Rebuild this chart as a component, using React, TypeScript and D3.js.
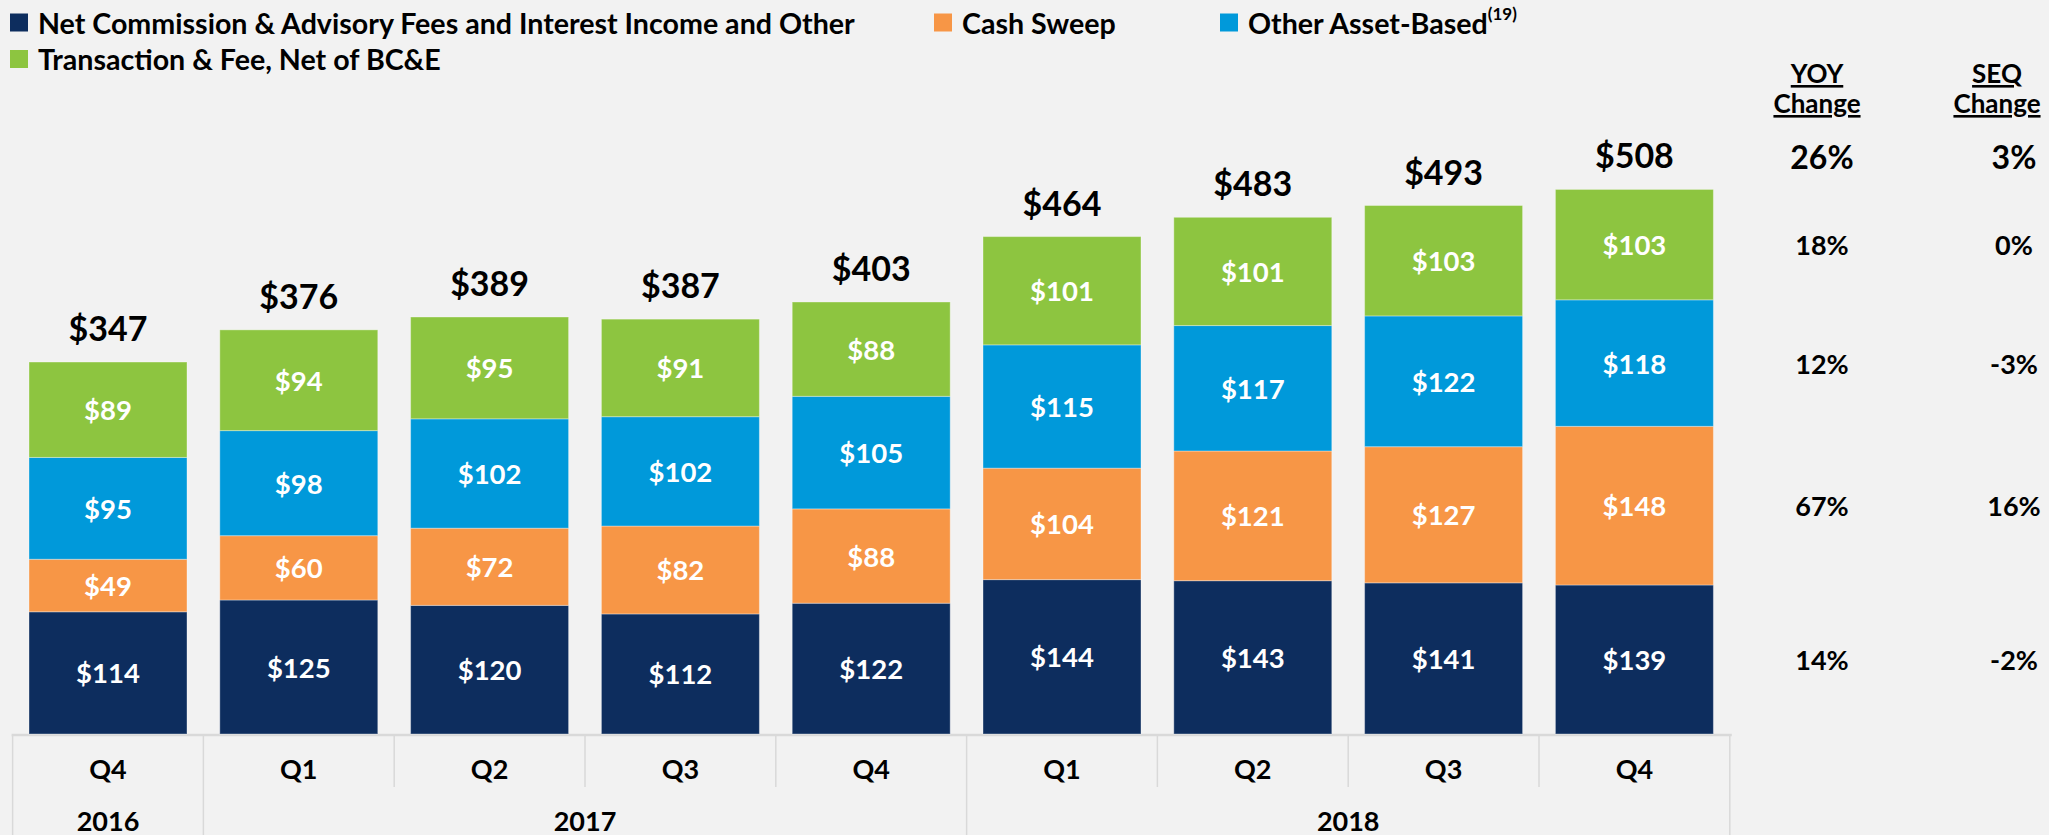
import React from "react";
import * as d3 from "d3";

const quarters = ["Q4", "Q1", "Q2", "Q3", "Q4", "Q1", "Q2", "Q3", "Q4"];
const yearLabels = ["2016", "2017", "2018"];
const yearSpans = [1, 4, 4];

const seriesNames = [
  "Net Commission & Advisory Fees and Interest Income and Other",
  "Cash Sweep",
  "Other Asset-Based",
  "Transaction & Fee, Net of BC&E",
];
const netCommission = [114, 125, 120, 112, 122, 144, 143, 141, 139];
const cashSweep = [49, 60, 72, 82, 88, 104, 121, 127, 148];
const otherAssetBased = [95, 98, 102, 102, 105, 115, 117, 122, 118];
const transactionFee = [89, 94, 95, 91, 88, 101, 101, 103, 103];
const totals = [347, 376, 389, 387, 403, 464, 483, 493, 508];

const yoyChange = ["26%", "18%", "12%", "67%", "14%"];
const seqChange = ["3%", "0%", "-3%", "16%", "-2%"];

const colors = ["#0D2D5E", "#F79646", "#0099DA", "#8DC540"];
const FONT = "Lato, 'Open Sans', sans-serif";

export default function App() {
  const W = 2049;
  const H = 835;
  const baseY = 734;
  const series = [netCommission, cashSweep, otherAssetBased, transactionFee];

  const x = d3
    .scaleBand<number>()
    .domain(d3.range(quarters.length))
    .range([12.6, 1729.8])
    .paddingInner(0.172)
    .paddingOuter(0.086);
  const y = d3.scaleLinear().domain([0, 500]).range([baseY, baseY - 536]);

  const rows = quarters.map((q, i) => {
    const o: any = { i };
    series.forEach((s, k) => (o["s" + k] = s[i]));
    return o;
  });
  const stack = d3.stack<any>().keys(["s0", "s1", "s2", "s3"])(rows);

  const step = x.step();
  const x0 = 12.6;
  const axisY = 735;

  const yearBounds: number[] = [];
  let acc = 0;
  yearSpans.forEach((s) => {
    yearBounds.push(acc);
    acc += s;
  });
  yearBounds.push(acc);

  const last = quarters.length - 1;
  const lastCenters = [3, 2, 1, 0].map((k) => {
    const seg = stack[k][last];
    return (y(seg[0]) + y(seg[1])) / 2;
  });
  const totalY = (i: number) => y(stack[3][i][1]) - 21;

  const rightRowsY = [y(stack[3][last][1]) - 33, ...lastCenters];
  const yoyX = 1822;
  const seqX = 2014;

  const legend = [
    { k: 0, x: 10, y: 22.5 },
    { k: 1, x: 934, y: 22.5 },
    { k: 2, x: 1220, y: 22.5 },
    { k: 3, x: 10, y: 59 },
  ];

  return (
    <svg
      width={W}
      height={H}
      style={{ position: "absolute", left: 0, top: 0, fontFamily: FONT }}
    >
      <rect x={0} y={0} width={W} height={H} fill="#F2F2F2" />

      {legend.map((l) => (
        <g key={l.k}>
          <rect x={l.x} y={l.y - 9} width={18} height={18} fill={colors[l.k]} />
          <text
            x={l.x + 28}
            y={l.y}
            dominantBaseline="central"
            fontSize={28.6}
            fontWeight={700}
            fill="#000"
          >
            {seriesNames[l.k]}
            {l.k === 2 ? (
              <tspan fontSize={17} dy={-10}>
                (19)
              </tspan>
            ) : null}
          </text>
        </g>
      ))}

      <line x1={x0 - 1} x2={x0 + step * quarters.length + 2} y1={axisY} y2={axisY} stroke="#D9D9D9" strokeWidth={2.5} />
      {d3.range(quarters.length + 1).map((j) => {
        const isYear = yearBounds.includes(j);
        return (
          <line
            key={j}
            x1={x0 + j * step}
            x2={x0 + j * step}
            y1={axisY}
            y2={isYear ? H : 787}
            stroke="#D9D9D9"
            strokeWidth={1.5}
          />
        );
      })}
      {quarters.map((q, i) => (
        <text
          key={"q" + i}
          x={x0 + (i + 0.5) * step}
          y={768}
          textAnchor="middle"
          dominantBaseline="central"
          fontSize={27}
          fontWeight={700}
        >
          {q}
        </text>
      ))}
      {yearLabels.map((yl, j) => (
        <text
          key={"y" + j}
          x={x0 + ((yearBounds[j] + yearBounds[j + 1]) / 2) * step}
          y={820}
          textAnchor="middle"
          dominantBaseline="central"
          fontSize={27}
          fontWeight={700}
        >
          {yl}
        </text>
      ))}

      {stack.map((layer, k) => (
        <g key={"l" + k}>
          {layer.map((seg, i) => (
            <g key={i}>
              <rect
                x={x(i)}
                y={y(seg[1])}
                width={x.bandwidth()}
                height={y(seg[0]) - y(seg[1])}
                fill={colors[k]}
                stroke="rgba(255,255,255,0.35)"
                strokeWidth={1}
              />
              <text
                x={(x(i) as number) + x.bandwidth() / 2}
                y={(y(seg[0]) + y(seg[1])) / 2}
                textAnchor="middle"
                dominantBaseline="central"
                fontSize={27.5}
                fontWeight={700}
                fill="#FFFFFF"
              >
                {"$" + series[k][i]}
              </text>
            </g>
          ))}
        </g>
      ))}

      {totals.map((t, i) => (
        <text
          key={"t" + i}
          x={(x(i) as number) + x.bandwidth() / 2}
          y={totalY(i)}
          textAnchor="middle"
          fontSize={34}
          fontWeight={700}
          fill="#000"
        >
          {"$" + t}
        </text>
      ))}

      {[
        { t: "YOY", cx: 1817 },
        { t: "SEQ", cx: 1997 },
      ].map((h) => (
        <g key={h.t}>
          <text x={h.cx} y={83} textAnchor="middle" fontSize={26} fontWeight={700} style={{ textDecoration: "underline" }}>
            {h.t}
          </text>
          <text x={h.cx} y={113} textAnchor="middle" fontSize={26} fontWeight={700} style={{ textDecoration: "underline" }}>
            Change
          </text>
        </g>
      ))}
      {yoyChange.map((v, r) => (
        <text
          key={"yoy" + r}
          x={yoyX}
          y={rightRowsY[r]}
          textAnchor="middle"
          dominantBaseline="central"
          fontSize={r === 0 ? 32 : 27}
          fontWeight={700}
        >
          {v}
        </text>
      ))}
      {seqChange.map((v, r) => (
        <text
          key={"seq" + r}
          x={seqX}
          y={rightRowsY[r]}
          textAnchor="middle"
          dominantBaseline="central"
          fontSize={r === 0 ? 32 : 27}
          fontWeight={700}
        >
          {v}
        </text>
      ))}
    </svg>
  );
}
